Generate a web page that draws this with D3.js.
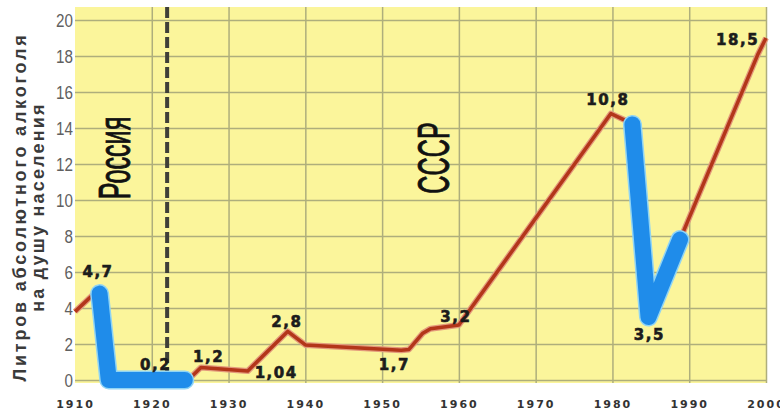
<!DOCTYPE html>
<html>
<head>
<meta charset="utf-8">
<script src="https://cdn.jsdelivr.net/npm/d3@7"></script>
<style>
  body { margin: 0; background: #fff; }
  svg { display: block; }
</style>
</head>
<body>
<svg></svg>
<script>
// red line: years and litres per person
var redYears = [1910, 1913, 1914.6, 1925.2, 1926.4, 1932.5, 1937.7, 1940, 1952.5, 1953.5, 1955.3, 1956.3, 1960, 1979.8, 1981.8, 1984.6, 1988.8, 1998.9, 2000];
var redValues = [3.8, 5.0, 0.2, 0.2, 0.7, 0.5, 2.7, 1.95, 1.65, 1.7, 2.6, 2.85, 3.05, 14.8, 14.4, 3.6, 7.8, 18.05, 19.0];

// blue segments (prohibition periods)
var blueA = [[1913.2, 4.8], [1914.4, 0], [1924.3, 0]];
var blueB = [[1982.6, 14.2], [1984.7, 3.5], [1988.8, 7.8]];

// value labels
var labelText = ['4,7', '0,2', '1,2', '1,04', '2,8', '1,7', '3,2', '10,8', '3,5', '18,5'];
var labelYear = [1913.0, 1920.5, 1927.4, 1936.2, 1937.6, 1951.6, 1959.6, 1979.4, 1984.8, 1996.3];
var labelValue = [5.7, 0.55, 1.0, 0.1, 2.95, 0.55, 3.25, 15.3, 2.2, 18.6];

var periodText = ['Россия', 'СССР'];
var periodYear = [1917.1, 1958.7];

var xTicks = [1910, 1920, 1930, 1940, 1950, 1960, 1970, 1980, 1990, 2000];
var yTicks = [0, 2, 4, 6, 8, 10, 12, 14, 16, 18, 20];
var yTitle = ['Литров абсолютного алкоголя', 'на душу населения'];
var unionYear = 1922;

var width = 780;
var height = 411;

var xScale, yScale;

var svg = d3.select('svg')
            .attr('width', width)
            .attr('height', height);

var setScale = () => {
    xScale = d3.scaleLinear()
               .domain([1910, 2000])
               .range([75, 766]);
    yScale = d3.scaleLinear()
               .domain([0, 20])
               .range([380, 20]);
}

// yellow plot area and grid
var setGrid = () => {
    svg.append('rect')
       .attr('x', 75)
       .attr('y', 7)
       .attr('width', 692)
       .attr('height', 376)
       .attr('fill', '#fbf59b');

    var gx = svg.append('g')
        .attr('transform', 'translate(0,383)')
        .call(d3.axisBottom(xScale).tickValues(xTicks.slice(1)).tickSize(-376).tickFormat(''));
    var gy = svg.append('g')
        .attr('transform', 'translate(75,0)')
        .call(d3.axisLeft(yScale).tickValues(yTicks).tickSize(-692).tickFormat(''));

    [gx, gy].forEach((g) => {
        g.select('.domain').remove();
        g.selectAll('line')
         .attr('stroke', '#aeae7c')
         .attr('stroke-width', 1.5);
    });
}

var setAxis = () => {
    var xAxis = svg.append('g')
        .attr('transform', 'translate(0,397)')
        .call(d3.axisBottom(xScale).tickValues(xTicks).tickSize(0).tickFormat(d3.format('d')));
    xAxis.select('.domain').remove();
    xAxis.selectAll('text')
         .attr('font-family', 'DejaVu Sans, sans-serif')
         .attr('font-weight', 'bold')
         .attr('font-size', 11)
         .attr('letter-spacing', 2)
         .attr('fill', '#333');

    var yAxis = svg.append('g')
        .attr('transform', 'translate(73,0)')
        .call(d3.axisLeft(yScale).tickValues(yTicks).tickSize(0).tickPadding(0));
    yAxis.select('.domain').remove();
    // narrow digits
    yAxis.selectAll('text')
         .attr('font-family', 'Liberation Sans, Arial, sans-serif')
         .attr('font-size', 19)
         .attr('transform', 'scale(0.8,1)')
         .attr('fill', '#606060');

    svg.selectAll('.ytitle')
       .data(yTitle)
       .enter()
       .append('text')
       .attr('class', 'ytitle')
       .attr('transform', (d, i) => 'translate(' + (26 + i * 18) + ',207) rotate(-90)')
       .attr('text-anchor', 'middle')
       .attr('font-family', 'Liberation Sans, Arial, sans-serif')
       .attr('font-weight', 'bold')
       .attr('font-size', 18)
       .attr('letter-spacing', (d, i) => i ? 2.2 : 2.8)
       .attr('fill', '#3a3a3a')
       .text((d) => d);
}

var setLines = () => {
    svg.append('line')
       .attr('x1', xScale(unionYear))
       .attr('x2', xScale(unionYear))
       .attr('y1', 7)
       .attr('y2', 383)
       .attr('stroke', '#3f3f38')
       .attr('stroke-width', 4)
       .attr('stroke-dasharray', '11,4');

    var redLine = d3.line()
                    .x((d, i) => xScale(redYears[i]))
                    .y((d) => yScale(d));

    svg.append('path')
       .datum(redValues)
       .attr('d', redLine)
       .attr('fill', 'none')
       .attr('stroke', '#e39a7c')
       .attr('stroke-width', 6)
       .attr('stroke-linejoin', 'round');

    svg.append('path')
       .datum(redValues)
       .attr('d', redLine)
       .attr('fill', 'none')
       .attr('stroke', '#b3361a')
       .attr('stroke-width', 3.5)
       .attr('stroke-linejoin', 'round');

    var blueLine = d3.line()
                     .x((d) => xScale(d[0]))
                     .y((d) => yScale(d[1]));

    [blueA, blueB].forEach((seg) => {
        svg.append('path')
           .datum(seg)
           .attr('d', blueLine)
           .attr('fill', 'none')
           .attr('stroke', '#8fd4f5')
           .attr('stroke-width', 19)
           .attr('stroke-linecap', 'round')
           .attr('stroke-linejoin', 'round');
        svg.append('path')
           .datum(seg)
           .attr('d', blueLine)
           .attr('fill', 'none')
           .attr('stroke', '#1f8cea')
           .attr('stroke-width', 16)
           .attr('stroke-linecap', 'round')
           .attr('stroke-linejoin', 'round');
    });
}

var setLabels = () => {
    svg.selectAll('.val')
       .data(labelText)
       .enter()
       .append('text')
       .attr('class', 'val')
       .attr('x', (d, i) => xScale(labelYear[i]))
       .attr('y', (d, i) => yScale(labelValue[i]))
       .attr('text-anchor', 'middle')
       .attr('font-family', 'DejaVu Sans, sans-serif')
       .attr('font-weight', 'bold')
       .attr('font-size', 15)
       .attr('letter-spacing', 1.5)
       .attr('fill', '#1c1c1c')
       .attr('stroke', '#1c1c1c')
       .attr('stroke-width', 0.6)
       .text((d) => d);

    // condensed period names
    svg.selectAll('.period')
       .data(periodText)
       .enter()
       .append('text')
       .attr('class', 'period')
       .attr('transform', (d, i) => 'translate(' + xScale(periodYear[i]) + ',158) rotate(-90) scale(0.56,1)')
       .attr('text-anchor', 'middle')
       .attr('font-family', 'Liberation Sans, Arial, sans-serif')
       .attr('font-size', 45)
       .attr('fill', '#111')
       .attr('stroke', '#111')
       .attr('stroke-width', 0.9)
       .text((d) => d);
}

setScale();
setGrid();
setLines();
setAxis();
setLabels();
</script>
</body>
</html>
